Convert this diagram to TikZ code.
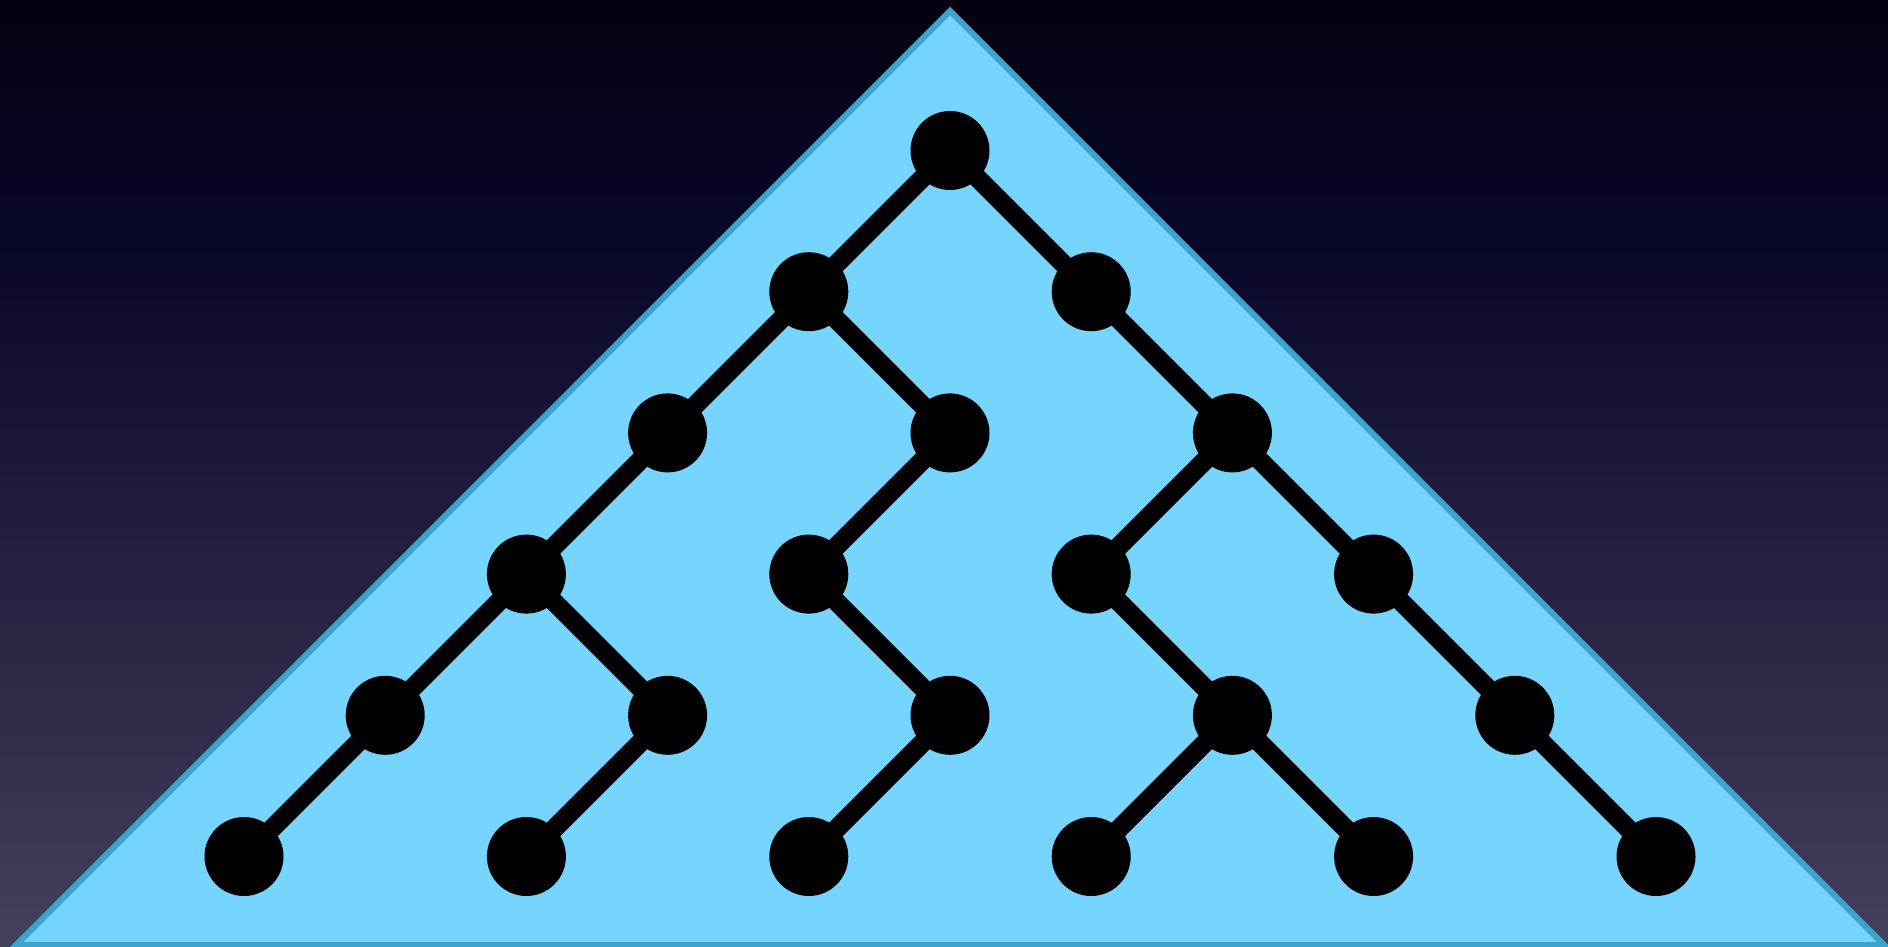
\documentclass[tikz,border=0pt]{standalone}
\definecolor{bgA}{HTML}{020210}
\definecolor{bgB}{HTML}{07072A}
\definecolor{bgC}{HTML}{1E1C3A}
\definecolor{bgD}{HTML}{302E4A}
\definecolor{bgE}{HTML}{43415C}
\definecolor{trifill}{HTML}{75D5FF}
\definecolor{triedge}{HTML}{3AA4CE}
% visible range of a pgf shading is 25bp (bottom) to 75bp (top)
\pgfdeclareverticalshading{skyshade}{100bp}{color(0bp)=(bgE); color(25bp)=(bgE); color(36bp)=(bgD); color(49bp)=(bgC); color(62bp)=(bgB); color(75bp)=(bgA); color(100bp)=(bgA)}
\tikzset{
  treenode/.style={circle, fill=black, inner sep=0pt, minimum size=79pt},
  treeedge/.style={line width=19pt, draw=black},
}
\begin{document}
\begin{tikzpicture}[x=1pt,y=-1pt]
\useasboundingbox (0,0) rectangle (1888,947);
\shade[shading=skyshade] (0,0) rectangle (1888,947);
\coordinate (apex) at (950,11);
\coordinate (bl) at (16,945);
\coordinate (br) at (1884,945);
\filldraw[fill=trifill, draw=triedge, line width=6pt, line join=miter] (apex) -- (br) -- (bl) -- cycle;
\foreach \nm/\kk/\ll in {r/0/0, a/-1/1, b/1/1, c/-2/2, d/0/2, e/2/2, f/-3/3, g/-1/3, h/1/3, i/3/3, j/-4/4, k/-2/4, l/0/4, m/2/4, n/4/4, o/-5/5, p/-3/5, q/-1/5, s/1/5, t/3/5, u/5/5}
  \coordinate (\nm) at ({950+141.2*\kk},{150.5+141.2*\ll});
\foreach \pa/\pb in {r/a, r/b, a/c, a/d, b/e, c/f, d/g, e/h, e/i, f/j, f/k, g/l, h/m, i/n, j/o, k/p, l/q, m/s, m/t, n/u}
  \draw[treeedge] (\pa) -- (\pb);
\foreach \nm in {r,a,b,c,d,e,f,g,h,i,j,k,l,m,n,o,p,q,s,t,u}
  \node[treenode] (v\nm) at (\nm) {};
\end{tikzpicture}
\end{document}
